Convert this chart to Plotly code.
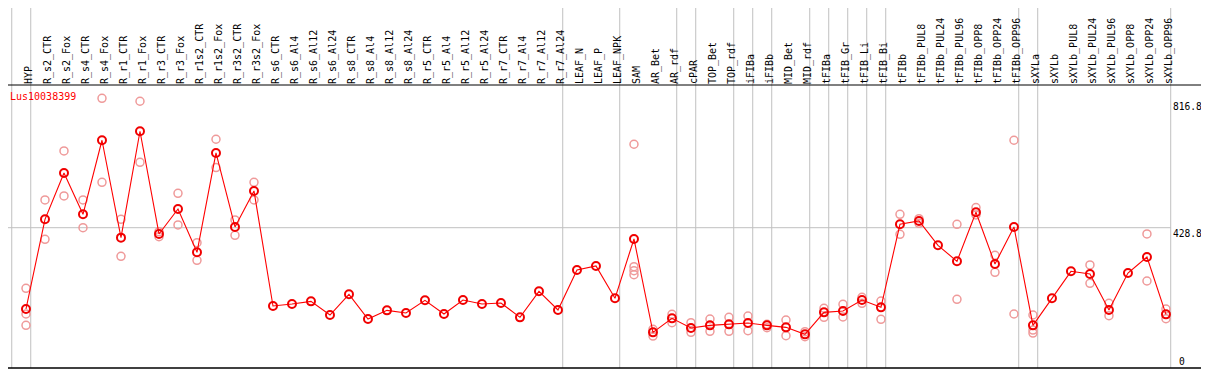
import plotly.graph_objects as go

categories = ["HYP", "R_s2_CTR", "R_s2_Fox", "R_s4_CTR", "R_s4_Fox", "R_r1_CTR", "R_r1_Fox",
              "R_r3_CTR", "R_r3_Fox", "R_r1s2_CTR", "R_r1s2_Fox", "R_r3s2_CTR", "R_r3s2_Fox",
              "R_s6_CTR", "R_s6_Al4", "R_s6_Al12", "R_s6_Al24", "R_s8_CTR", "R_s8_Al4", "R_s8_Al12",
              "R_s8_Al24", "R_r5_CTR", "R_r5_Al4", "R_r5_Al12", "R_r5_Al24", "R_r7_CTR", "R_r7_Al4",
              "R_r7_Al12", "R_r7_Al24", "LEAF_N", "LEAF_P", "LEAF_NPK", "SAM", "AR_Bet", "AR_rdf",
              "cPAR", "TOP_Bet", "TOP_rdf", "iFIBa", "iFIBb", "MID_Bet", "MID_rdf", "tFIBa",
              "tFIB_Gr", "tFIB_Li", "tFIB_Bi", "tFIBb", "tFIBb_PUL8", "tFIBb_PUL24", "tFIBb_PUL96",
              "tFIBb_OPP8", "tFIBb_OPP24", "tFIBb_OPP96", "sXYLa", "sXYLb", "sXYLb_PUL8",
              "sXYLb_PUL24", "sXYLb_PUL96", "sXYLb_OPP8", "sXYLb_OPP24", "sXYLb_OPP96"]

means = [185, 454, 593, 469, 691, 399, 718, 410, 485, 355, 653, 431, 539,
         194, 200, 208, 167, 229, 155, 181, 173, 211, 170, 212, 200, 203, 160, 238, 182,
         302, 314, 217, 395, 115, 157, 128, 136, 139, 143, 136, 130, 109,
         175, 179, 212, 190, 439, 449, 376, 328, 475, 320, 431,
         136, 217, 298, 290, 182, 293, 341, 169]

replicates = [[247, 170, 136], [512, 394], [659, 524], [512, 429], [816.8, 565], [454, 343],
              [808, 625], [417, 402], [532, 437], [384, 331], [694, 609], [452, 406], [565, 512],
              [], [], [], [], [], [], [], [], [], [], [], [], [], [], [], [],
              [], [], [], [679, 312, 300, 288], [124, 104], [169, 144], [144, 115], [155, 118],
              [160, 118], [164, 120], [139, 129], [152, 105], [117, 102],
              [187, 160], [199, 161], [220, 202], [209, 154], [469, 409], [456, 442], [],
              [439, 214], [489, 467], [346, 295], [691, 170],
              [167, 122, 113], [], [], [317, 262], [202, 165], [], [410, 269], [185, 156]]

group_ends = [-1, 0, 28, 31, 34, 35, 37, 38, 39, 41, 42, 43, 44, 45, 52, 53, 60]

y_ticks = [0, 428.8, 816.8]
gene = "Lus10038399"

# the page body adds an 8px margin, so the figure is sized to fill the rest of the window
OFF = 8
W, H = 1209 - OFF, 370 - OFF
L, R, T, B = 0, 2, 85 - OFF, 2
pw, ph = W - L - R, H - T - B
x_range = [-0.947, 62.16]
y_range = [8.1, 856.7]

idx = list(range(len(categories)))
rx, ry = [], []
for i, reps in enumerate(replicates):
    for v in reps:
        rx.append(i)
        ry.append(v)

mono = "DejaVu Sans Mono"

fig = go.Figure()
fig.add_trace(go.Scatter(x=rx, y=ry, mode="markers", hoverinfo="skip",
                         marker=dict(symbol="circle-open", size=8, color="#ef9a9a",
                                     line=dict(width=1.5, color="#ef9a9a"))))
fig.add_trace(go.Scatter(x=idx, y=means, mode="lines+markers",
                         line=dict(color="#ff0000", width=1.1),
                         marker=dict(symbol="circle-open", size=8, color="#f00000",
                                     line=dict(width=2, color="#f00000"))))

top_edge = 1 + T / ph
shapes = []
for g in group_ends:
    shapes.append(dict(type="line", xref="x", yref="paper", x0=g + 0.25, x1=g + 0.25,
                       y0=0, y1=top_edge, line=dict(color="#c0c0c0", width=1), layer="below"))
grid_end = (group_ends[-1] + 0.25 - x_range[0]) / (x_range[1] - x_range[0])
shapes.append(dict(type="line", xref="paper", yref="y", x0=0, x1=grid_end,
                   y0=y_ticks[1], y1=y_ticks[1], line=dict(color="#c0c0c0", width=1), layer="below"))
# frame: plot top, bottom, right edge
shapes.append(dict(type="line", xref="paper", yref="paper", x0=0, x1=1, y0=1, y1=1,
                   line=dict(color="black", width=1)))
shapes.append(dict(type="line", xref="paper", yref="paper", x0=0, x1=1, y0=0, y1=0,
                   line=dict(color="black", width=1.5)))
shapes.append(dict(type="line", xref="paper", yref="paper", x0=1, x1=1, y0=0, y1=top_edge,
                   line=dict(color="black", width=1)))

lab_x = (1172 - OFF - L) / pw
tick_font = dict(family=mono, size=9.6, color="black")
annotations = [
    dict(x=lab_x, y=y_ticks[2], xref="paper", yref="y", text=f"{y_ticks[2]}", showarrow=False,
         xanchor="left", yanchor="top", yshift=-2, borderpad=0, font=tick_font),
    dict(x=lab_x, y=y_ticks[1], xref="paper", yref="y", text=f"{y_ticks[1]}", showarrow=False,
         xanchor="left", yanchor="top", yshift=1, borderpad=0, font=tick_font),
    dict(x=lab_x, y=0, xref="paper", yref="paper", text=f"{y_ticks[0]}", showarrow=False,
         xanchor="left", yanchor="bottom", xshift=6, borderpad=0, font=tick_font),
    dict(x=(9 - OFF - L) / pw, y=1 - 5 / ph, xref="paper", yref="paper", text=gene, showarrow=False,
         xanchor="left", yanchor="top", borderpad=0, font=dict(family=mono, size=10, color="#ff0000")),
]

fig.update_layout(
    width=W, height=H, margin=dict(l=L, r=R, t=T, b=B, pad=0, autoexpand=False),
    plot_bgcolor="white", paper_bgcolor="white", showlegend=False,
    shapes=shapes, annotations=annotations,
    xaxis=dict(range=x_range, tickmode="array", tickvals=idx, ticktext=categories,
               side="top", tickangle=-90, ticks="", showgrid=False, zeroline=False,
               showline=False, automargin=False, ticklabelshift=3,
               tickfont=dict(family=mono, size=10, color="black")),
    yaxis=dict(range=y_range, showticklabels=False, showgrid=False, zeroline=False,
               showline=False, ticks="", automargin=False),
)

fig.write_html("out.html")
